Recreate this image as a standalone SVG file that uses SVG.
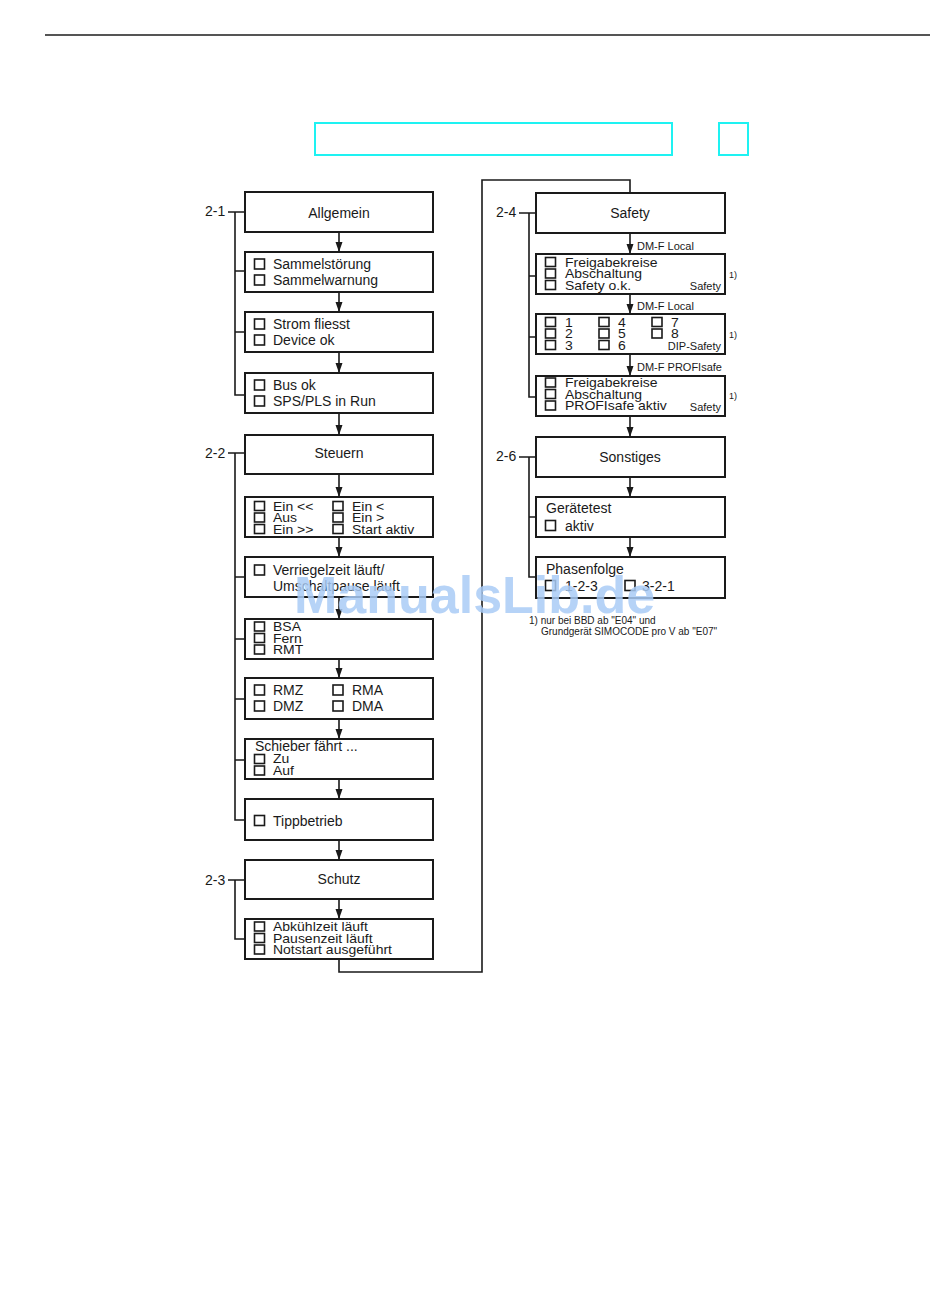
<svg xmlns="http://www.w3.org/2000/svg" width="950" height="1302" viewBox="0 0 950 1302">
<defs>
<style>
.box{fill:#fff;stroke:#1a1a1a;stroke-width:2}
.cb{fill:#fff;stroke:#1a1a1a;stroke-width:1.6}
.ln{fill:none;stroke:#1a1a1a;stroke-width:1.6}
.t{font-family:"Liberation Sans",Arial,sans-serif;font-size:14px;fill:#1a1a1a}
.c{text-anchor:middle}
.s{font-family:"Liberation Sans",Arial,sans-serif;font-size:11px;fill:#1a1a1a}
.e{text-anchor:end}
.fn{font-family:"Liberation Sans",Arial,sans-serif;font-size:9px;fill:#1a1a1a}
.ft{font-family:"Liberation Sans",Arial,sans-serif;font-size:10px;fill:#1a1a1a}
.cy{fill:none;stroke:#1ef2f2;stroke-width:2}
.wm{font-family:"Liberation Sans",Arial,sans-serif;font-size:52px;font-weight:bold;fill:#a9cbf6;fill-opacity:0.85}
</style>
<marker id="ah" markerUnits="userSpaceOnUse" markerWidth="10" markerHeight="8" refX="10" refY="3.5" orient="auto">
<path d="M0,0 L10,3.5 L0,7 z" fill="#1a1a1a"/>
</marker>
</defs>
<rect width="950" height="1302" fill="#fff"/>
<line x1="45" y1="35" x2="930" y2="35" stroke="#555" stroke-width="2"/>
<rect class="cy" x="315" y="123" width="357" height="32"/>
<rect class="cy" x="719" y="123" width="29" height="32"/>

<g id="connectors">
<line class="ln" x1="339" y1="232" x2="339" y2="252" marker-end="url(#ah)"/>
<line class="ln" x1="339" y1="292" x2="339" y2="312" marker-end="url(#ah)"/>
<line class="ln" x1="339" y1="352" x2="339" y2="373" marker-end="url(#ah)"/>
<line class="ln" x1="339" y1="413" x2="339" y2="435" marker-end="url(#ah)"/>
<line class="ln" x1="339" y1="474" x2="339" y2="497" marker-end="url(#ah)"/>
<line class="ln" x1="339" y1="537" x2="339" y2="557" marker-end="url(#ah)"/>
<line class="ln" x1="339" y1="597" x2="339" y2="619" marker-end="url(#ah)"/>
<line class="ln" x1="339" y1="659" x2="339" y2="678" marker-end="url(#ah)"/>
<line class="ln" x1="339" y1="719" x2="339" y2="739" marker-end="url(#ah)"/>
<line class="ln" x1="339" y1="779" x2="339" y2="799" marker-end="url(#ah)"/>
<line class="ln" x1="339" y1="840" x2="339" y2="860" marker-end="url(#ah)"/>
<line class="ln" x1="339" y1="899" x2="339" y2="919" marker-end="url(#ah)"/>
<path class="ln" d="M339,959 V972 H482 V180 H630 V193"/>
<line class="ln" x1="630" y1="233" x2="630" y2="254" marker-end="url(#ah)"/>
<line class="ln" x1="630" y1="294" x2="630" y2="314" marker-end="url(#ah)"/>
<line class="ln" x1="630" y1="354" x2="630" y2="376" marker-end="url(#ah)"/>
<line class="ln" x1="630" y1="416" x2="630" y2="437" marker-end="url(#ah)"/>
<line class="ln" x1="630" y1="477" x2="630" y2="497" marker-end="url(#ah)"/>
<line class="ln" x1="630" y1="537" x2="630" y2="557" marker-end="url(#ah)"/>
<path class="ln" d="M228,212 H245 M235,212 V395 H245 M235,271 H245 M235,332 H245"/>
<path class="ln" d="M228,453 H245 M235,453 V820 H245 M235,577 H245 M235,639 H245 M235,699 H245 M235,760 H245"/>
<path class="ln" d="M228,880 H245 M235,880 V939 H245"/>
<path class="ln" d="M519,213 H536 M529,213 V397 H536 M529,276 H536 M529,337 H536"/>
<path class="ln" d="M519,457 H536 M529,457 V577 H536 M529,517 H536"/>
</g>

<g id="labels">
<text class="t" x="205" y="216">2-1</text>
<text class="t" x="205" y="458">2-2</text>
<text class="t" x="205" y="885">2-3</text>
<text class="t" x="496" y="217">2-4</text>
<text class="t" x="496" y="461">2-6</text>
<text class="s" x="637" y="250">DM-F Local</text>
<text class="s" x="637" y="310">DM-F Local</text>
<text class="s" x="637" y="371">DM-F PROFIsafe</text>
</g>

<g id="n-allgemein">
<rect class="box" x="245" y="192" width="188" height="40"/>
<text class="t c" x="339" y="218">Allgemein</text>
</g>
<g id="n-sammel">
<rect class="box" x="245" y="252" width="188" height="40"/>
<rect class="cb" x="254.5" y="259" width="10" height="10"/>
<rect class="cb" x="254.5" y="275" width="10" height="10"/>
<text class="t" x="273" y="269">Sammelstörung</text>
<text class="t" x="273" y="285">Sammelwarnung</text>
</g>
<g id="n-strom">
<rect class="box" x="245" y="312" width="188" height="40"/>
<rect class="cb" x="254.5" y="319" width="10" height="10"/>
<rect class="cb" x="254.5" y="335" width="10" height="10"/>
<text class="t" x="273" y="329">Strom fliesst</text>
<text class="t" x="273" y="345">Device ok</text>
</g>
<g id="n-bus">
<rect class="box" x="245" y="373" width="188" height="40"/>
<rect class="cb" x="254.5" y="380" width="10" height="10"/>
<rect class="cb" x="254.5" y="396" width="10" height="10"/>
<text class="t" x="273" y="390">Bus ok</text>
<text class="t" x="273" y="406">SPS/PLS in Run</text>
</g>
<g id="n-steuern">
<rect class="box" x="245" y="435" width="188" height="39"/>
<text class="t c" x="339" y="458">Steuern</text>
</g>
<g id="n-ein">
<rect class="box" x="245" y="497" width="188" height="40"/>
<rect class="cb" x="254.5" y="501.5" width="10" height="9"/>
<rect class="cb" x="254.5" y="513" width="10" height="9"/>
<rect class="cb" x="254.5" y="524.5" width="10" height="9"/>
<rect class="cb" x="333" y="501.5" width="10" height="9"/>
<rect class="cb" x="333" y="513" width="10" height="9"/>
<rect class="cb" x="333" y="524.5" width="10" height="9"/>
<text class="t" x="273" transform="translate(0,510.5) scale(1,.86)">Ein &lt;&lt;</text>
<text class="t" x="273" transform="translate(0,522) scale(1,.86)">Aus</text>
<text class="t" x="273" transform="translate(0,533.5) scale(1,.86)">Ein &gt;&gt;</text>
<text class="t" x="352" transform="translate(0,510.5) scale(1,.86)">Ein &lt;</text>
<text class="t" x="352" transform="translate(0,522) scale(1,.86)">Ein &gt;</text>
<text class="t" x="352" transform="translate(0,533.5) scale(1,.86)">Start aktiv</text>
</g>
<g id="n-verriegel">
<rect class="box" x="245" y="557" width="188" height="40"/>
<rect class="cb" x="254.5" y="565" width="10" height="10"/>
<text class="t" x="273" y="575">Verriegelzeit läuft/</text>
<text class="t" x="273" y="591">Umschaltpause läuft</text>
</g>
<g id="n-bsa">
<rect class="box" x="245" y="619" width="188" height="40"/>
<rect class="cb" x="254.5" y="622" width="10" height="9"/>
<rect class="cb" x="254.5" y="633.5" width="10" height="9"/>
<rect class="cb" x="254.5" y="645" width="10" height="9"/>
<text class="t" x="273" transform="translate(0,631) scale(1,.86)">BSA</text>
<text class="t" x="273" transform="translate(0,642.5) scale(1,.86)">Fern</text>
<text class="t" x="273" transform="translate(0,654) scale(1,.86)">RMT</text>
</g>
<g id="n-rmz">
<rect class="box" x="245" y="678" width="188" height="41"/>
<rect class="cb" x="254.5" y="685" width="10" height="10"/>
<rect class="cb" x="254.5" y="701" width="10" height="10"/>
<rect class="cb" x="333" y="685" width="10" height="10"/>
<rect class="cb" x="333" y="701" width="10" height="10"/>
<text class="t" x="273" y="695">RMZ</text>
<text class="t" x="273" y="711">DMZ</text>
<text class="t" x="352" y="695">RMA</text>
<text class="t" x="352" y="711">DMA</text>
</g>
<g id="n-schieber">
<rect class="box" x="245" y="739" width="188" height="40"/>
<text class="t" x="255" y="751">Schieber fährt ...</text>
<rect class="cb" x="254.5" y="754.5" width="10" height="9"/>
<rect class="cb" x="254.5" y="766" width="10" height="9"/>
<text class="t" x="273" transform="translate(0,763) scale(1,.86)">Zu</text>
<text class="t" x="273" transform="translate(0,774.5) scale(1,.86)">Auf</text>
</g>
<g id="n-tipp">
<rect class="box" x="245" y="799" width="188" height="41"/>
<rect class="cb" x="254.5" y="815.5" width="10" height="10"/>
<text class="t" x="273" y="826">Tippbetrieb</text>
</g>
<g id="n-schutz">
<rect class="box" x="245" y="860" width="188" height="39"/>
<text class="t c" x="339" y="884">Schutz</text>
</g>
<g id="n-abkuehl">
<rect class="box" x="245" y="919" width="188" height="40"/>
<rect class="cb" x="254.5" y="922" width="10" height="9"/>
<rect class="cb" x="254.5" y="933.5" width="10" height="9"/>
<rect class="cb" x="254.5" y="945" width="10" height="9"/>
<text class="t" x="273" transform="translate(0,931) scale(1,.86)">Abkühlzeit läuft</text>
<text class="t" x="273" transform="translate(0,942.5) scale(1,.86)">Pausenzeit läuft</text>
<text class="t" x="273" transform="translate(0,954) scale(1,.86)">Notstart ausgeführt</text>
</g>

<g id="n-safety">
<rect class="box" x="536" y="193" width="189" height="40"/>
<text class="t c" x="630" y="218">Safety</text>
</g>
<g id="n-safety1">
<rect class="box" x="536" y="254" width="189" height="40"/>
<rect class="cb" x="545.5" y="257.5" width="10" height="9"/>
<rect class="cb" x="545.5" y="269" width="10" height="9"/>
<rect class="cb" x="545.5" y="280.5" width="10" height="9"/>
<text class="t" x="565" transform="translate(0,266.5) scale(1,.86)">Freigabekreise</text>
<text class="t" x="565" transform="translate(0,278) scale(1,.86)">Abschaltung</text>
<text class="t" x="565" transform="translate(0,289.5) scale(1,.86)">Safety o.k.</text>
<text class="s e" x="721" y="290">Safety</text>
<text class="fn" x="729" y="278">1)</text>
</g>
<g id="n-dip">
<rect class="box" x="536" y="314" width="189" height="40"/>
<rect class="cb" x="545.5" y="317.5" width="10" height="9"/>
<rect class="cb" x="545.5" y="329" width="10" height="9"/>
<rect class="cb" x="545.5" y="340.5" width="10" height="9"/>
<rect class="cb" x="599" y="317.5" width="10" height="9"/>
<rect class="cb" x="599" y="329" width="10" height="9"/>
<rect class="cb" x="599" y="340.5" width="10" height="9"/>
<rect class="cb" x="652" y="317.5" width="10" height="9"/>
<rect class="cb" x="652" y="329" width="10" height="9"/>
<text class="t" x="565" transform="translate(0,326.5) scale(1,.86)">1</text>
<text class="t" x="565" transform="translate(0,338) scale(1,.86)">2</text>
<text class="t" x="565" transform="translate(0,349.5) scale(1,.86)">3</text>
<text class="t" x="618" transform="translate(0,326.5) scale(1,.86)">4</text>
<text class="t" x="618" transform="translate(0,338) scale(1,.86)">5</text>
<text class="t" x="618" transform="translate(0,349.5) scale(1,.86)">6</text>
<text class="t" x="671" transform="translate(0,326.5) scale(1,.86)">7</text>
<text class="t" x="671" transform="translate(0,338) scale(1,.86)">8</text>
<text class="s e" x="721" y="350">DIP-Safety</text>
<text class="fn" x="729" y="338">1)</text>
</g>
<g id="n-profisafe">
<rect class="box" x="536" y="376" width="189" height="40"/>
<rect class="cb" x="545.5" y="378" width="10" height="9"/>
<rect class="cb" x="545.5" y="389.5" width="10" height="9"/>
<rect class="cb" x="545.5" y="401" width="10" height="9"/>
<text class="t" x="565" transform="translate(0,387) scale(1,.86)">Freigabekreise</text>
<text class="t" x="565" transform="translate(0,398.5) scale(1,.86)">Abschaltung</text>
<text class="t" x="565" transform="translate(0,410) scale(1,.86)">PROFIsafe aktiv</text>
<text class="s e" x="721" y="411">Safety</text>
<text class="fn" x="729" y="399">1)</text>
</g>
<g id="n-sonstiges">
<rect class="box" x="536" y="437" width="189" height="40"/>
<text class="t c" x="630" y="462">Sonstiges</text>
</g>
<g id="n-geraetetest">
<rect class="box" x="536" y="497" width="189" height="40"/>
<text class="t" x="546" y="513">Gerätetest</text>
<rect class="cb" x="545.5" y="520.5" width="10" height="10"/>
<text class="t" x="565" y="531">aktiv</text>
</g>
<g id="n-phasen">
<rect class="box" x="536" y="557" width="189" height="41"/>
<text class="t" x="546" y="574">Phasenfolge</text>
<rect class="cb" x="545.5" y="580.5" width="10" height="10"/>
<text class="t" x="565" y="591">1-2-3</text>
<rect class="cb" x="625" y="580.5" width="10" height="10"/>
<text class="t" x="642" y="591">3-2-1</text>
</g>
<g id="footnote">
<text class="ft" x="529" y="624">1) nur bei BBD ab "E04" und</text>
<text class="ft" x="541" y="635">Grundgerät SIMOCODE pro V ab "E07"</text>
</g>
<text class="wm" x="294" y="613">ManualsLib.de</text>
</svg>
